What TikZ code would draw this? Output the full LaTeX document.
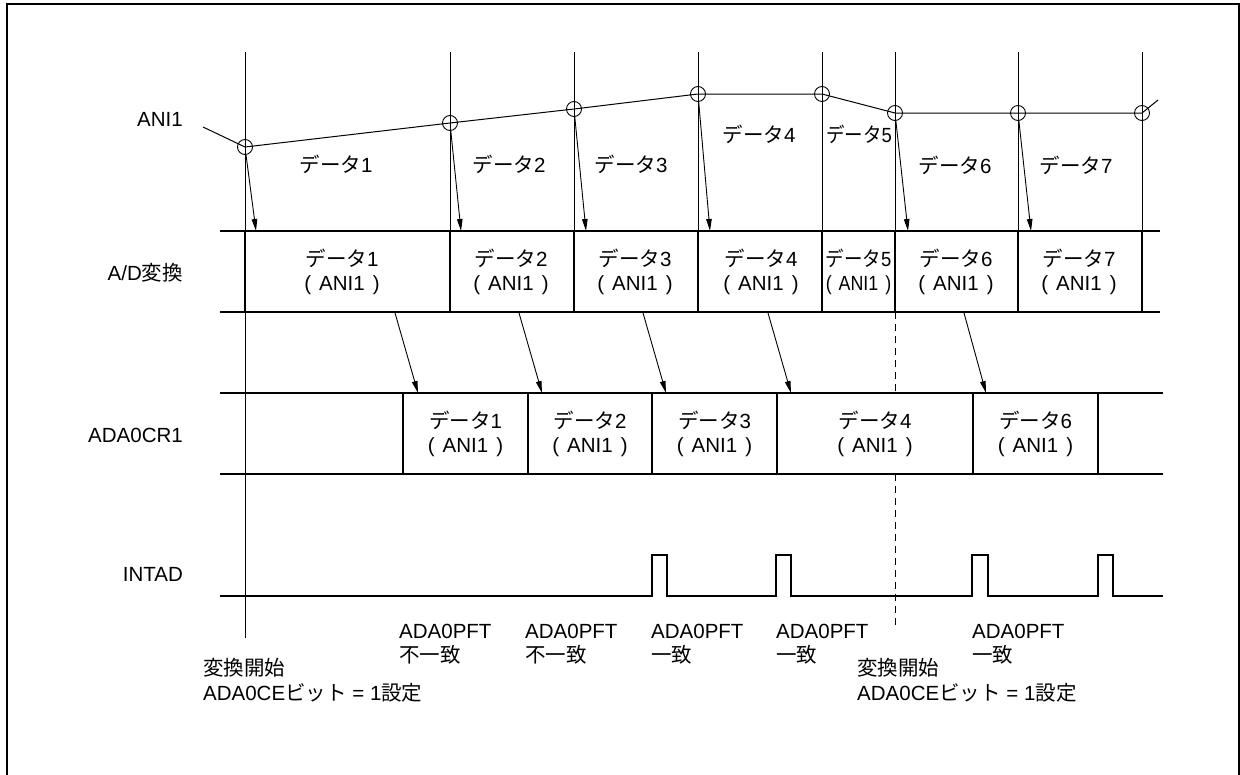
\documentclass[tikz,border=0pt]{standalone}
\usepackage{fontspec}
\setmainfont{Liberation Sans}
\newfontfamily\jpf{Noto Sans CJK JP}
\newcommand\J[1]{{\jpf #1}}
\newcommand\pan{(\hspace{8pt}ANI1\hspace{8pt})}
\usetikzlibrary{arrows.meta}
\begin{document}
\begin{tikzpicture}[x=1pt,y=-1pt,
  txt/.style={inner sep=0pt, font=\fontsize{20.5}{24.5}\selectfont},
  tline/.style={line width=1pt},
  rowline/.style={line width=2.3pt},
  sepline/.style={line width=2pt},
  wave/.style={line width=1pt},
  smp/.style={circle, draw, line width=0.9pt, minimum size=15pt, inner sep=0pt},
  arr/.style={line width=0.9pt, -{Triangle[length=12pt,width=5.5pt]}},
  dsh/.style={line width=1pt, dash pattern=on 7pt off 5pt},
  pulse/.style={line width=2pt},
  frame/.style={line width=1.5pt}]
\clip (0,0) rectangle (1240,774);
% frame
\draw[frame] (7,4) rectangle (1239,800);

% row labels
\node[txt, anchor=east] (lani) at (183,119) {ANI1};
\node[txt, anchor=east] (lad) at (183,273) {A/D\J{変換}};
\node[txt, anchor=east] (lcr) at (183,435) {ADA0CR1};
\node[txt, anchor=east] (lint) at (183,574) {INTAD};

% timeline coordinates
\foreach \n/\x in {1/245,2/450,3/574,4/698,5/822,6/895,7/1018,8/1142}{
  \coordinate (top\n) at (\x,52);
  \coordinate (adt\n) at (\x,231);
  \coordinate (adb\n) at (\x,312);
}
\coordinate (bot1) at (245,638);
% thin timeline verticals
\draw[tline] (top1) -- (bot1);
\foreach \n in {2,...,8}{ \draw[tline] (top\n) -- (adt\n); }

% dashed line at restart
\coordinate (dA) at (895,393);
\coordinate (dB) at (895,474);
\coordinate (dC) at (895,625);
\draw[dsh] (adb6) -- (dA);
\draw[dsh] (dB) -- (dC);

% ANI1 samples
\node[smp] (c1) at (245,147) {};
\node[smp] (c2) at (450,123) {};
\node[smp] (c3) at (574,109) {};
\node[smp] (c4) at (698,94) {};
\node[smp] (c5) at (822,94) {};
\node[smp] (c6) at (895,113) {};
\node[smp] (c7) at (1018,113) {};
\node[smp] (c8) at (1142,113) {};
\coordinate (w0) at (203,127);
\coordinate (w9) at (1158,100);
\draw[wave] (w0) -- (c1.center) -- (c2.center) -- (c3.center) -- (c4.center)
  -- (c5.center) -- (c6.center) -- (c7.center) -- (c8.center) -- (w9);

% data labels on ANI1
\node[txt] (v1) at (336,164) {\J{データ}1};
\node[txt] (v2) at (509,164) {\J{データ}2};
\node[txt] (v3) at (631,164) {\J{データ}3};
\node[txt] (v4) at (759,134) {\J{データ}4};
\node[txt] (v5) at (859,134) {\scalebox{0.9}[1]{\J{データ}5}};
\node[txt] (v6) at (955,165) {\J{データ}6};
\node[txt] (v7) at (1076,165) {\J{データ}7};

% sampling arrows
\coordinate (s1) at (256,231);
\coordinate (s2) at (461,231);
\coordinate (s3) at (586,231);
\coordinate (s4) at (710,231);
\coordinate (s6) at (908,231);
\coordinate (s7) at (1031,231);
\draw[arr] (c1) -- (s1);
\draw[arr] (c2) -- (s2);
\draw[arr] (c3) -- (s3);
\draw[arr] (c4) -- (s4);
\draw[arr] (c6) -- (s6);
\draw[arr] (c7) -- (s7);

% A/D row
\foreach \n in {1,...,8}{ \draw[sepline] (adt\n) -- (adb\n); }
\coordinate (adL1) at (220,231); \coordinate (adR1) at (1160,231);
\coordinate (adL2) at (220,312); \coordinate (adR2) at (1160,312);
\draw[rowline] (adL1) -- (adR1);
\draw[rowline] (adL2) -- (adR2);
\node[txt, align=center] (ad1) at (342,272) {\J{データ}1\\\pan};
\node[txt, align=center] (ad2) at (511,272) {\J{データ}2\\\pan};
\node[txt, align=center] (ad3) at (635,272) {\J{データ}3\\\pan};
\node[txt, align=center] (ad4) at (761,272) {\J{データ}4\\\pan};
\node[txt, align=center] (ad5) at (858.5,272) {\scalebox{0.9}[1]{\J{データ}5}\\\scalebox{0.87}[1]{\pan}};
\node[txt, align=center] (ad6) at (956,272) {\J{データ}6\\\pan};
\node[txt, align=center] (ad7) at (1079,272) {\J{データ}7\\\pan};

% ADA0CR1 row
\foreach \n/\x in {1/403,2/528,3/652,4/777,5/973,6/1098}{
  \coordinate (crt\n) at (\x,393);
  \coordinate (crb\n) at (\x,474);
  \draw[sepline] (crt\n) -- (crb\n);
}
\coordinate (crL1) at (220,393); \coordinate (crR1) at (1163,393);
\coordinate (crL2) at (220,474); \coordinate (crR2) at (1163,474);
\draw[rowline] (crL1) -- (crR1);
\draw[rowline] (crL2) -- (crR2);
\node[txt, align=center] (cr1) at (465.5,434) {\J{データ}1\\\pan};
\node[txt, align=center] (cr2) at (590,434) {\J{データ}2\\\pan};
\node[txt, align=center] (cr3) at (714.5,434) {\J{データ}3\\\pan};
\node[txt, align=center] (cr4) at (875,434) {\J{データ}4\\\pan};
\node[txt, align=center] (cr5) at (1035.5,434) {\J{データ}6\\\pan};

% transfer arrows
\foreach \n/\xa/\xb in {1/395/418,2/519/542,3/643/666,4/768/791,5/964/986}{
  \coordinate (ta\n) at (\xa,313);
  \coordinate (tb\n) at (\xb,393);
  \draw[arr] (ta\n) -- (tb\n);
}

% INTAD
\coordinate (iL) at (220,596);
\coordinate (iR) at (1163,596);
\draw[pulse] (iL) -- (652,596) -- (652,555) -- (667,555) -- (667,596)
  -- (776,596) -- (776,555) -- (791,555) -- (791,596)
  -- (972,596) -- (972,555) -- (988,555) -- (988,596)
  -- (1098,596) -- (1098,555) -- (1113,555) -- (1113,596) -- (iR);

% bottom labels
\node[txt, align=left, anchor=west] (b0) at (203,680) {\J{変換開始}\\ADA0CE\J{ビット} = 1\J{設定}};
\node[txt, align=left, anchor=west] (b1) at (399,644) {ADA0PFT\\\J{不一致}};
\node[txt, align=left, anchor=west] (b2) at (525,644) {ADA0PFT\\\J{不一致}};
\node[txt, align=left, anchor=west] (b3) at (651,644) {ADA0PFT\\\J{一致}};
\node[txt, align=left, anchor=west] (b4) at (776,644) {ADA0PFT\\\J{一致}};
\node[txt, align=left, anchor=west] (b5) at (857,680) {\J{変換開始}\\ADA0CE\J{ビット} = 1\J{設定}};
\node[txt, align=left, anchor=west] (b6) at (972,644) {ADA0PFT\\\J{一致}};
\end{tikzpicture}
\end{document}
